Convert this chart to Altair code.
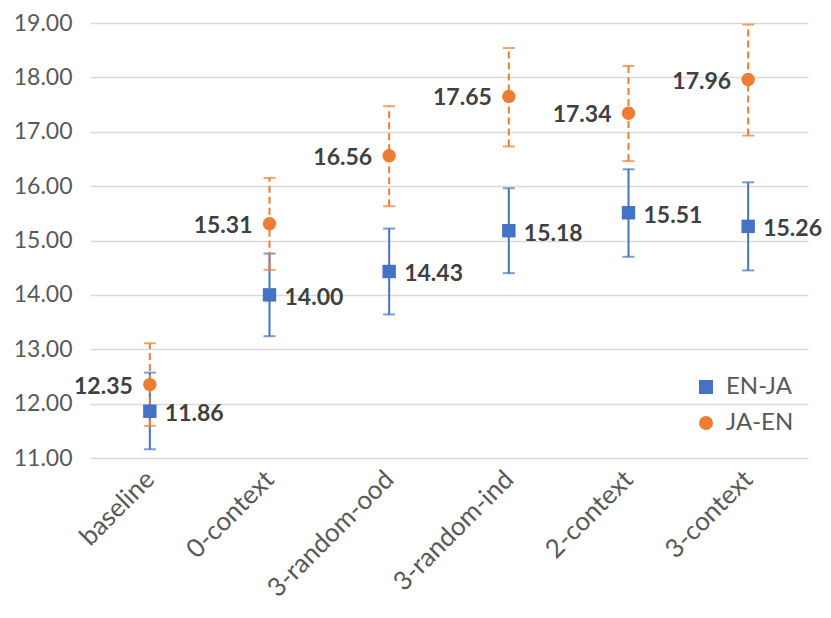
import altair as alt
import pandas as pd

categories = ["baseline", "0-context", "3-random-ood", "3-random-ind", "2-context", "3-context"]
series_names = ["EN-JA", "JA-EN"]

en_ja = [11.86, 14.00, 14.43, 15.18, 15.51, 15.26]
en_ja_lo = [11.16, 13.24, 13.64, 14.40, 14.70, 14.45]
en_ja_hi = [12.57, 14.76, 15.22, 15.96, 16.31, 16.07]

ja_en = [12.35, 15.31, 16.56, 17.65, 17.34, 17.96]
ja_en_lo = [11.59, 14.46, 15.63, 16.73, 16.46, 16.93]
ja_en_hi = [13.11, 16.15, 17.47, 18.54, 18.21, 18.97]

y_ticks = [11, 12, 13, 14, 15, 16, 17, 18, 19]

rows = []
for i, c in enumerate(categories):
    rows.append(dict(cat=c, series="EN-JA", v=en_ja[i], lo=en_ja_lo[i], hi=en_ja_hi[i]))
    rows.append(dict(cat=c, series="JA-EN", v=ja_en[i], lo=ja_en_lo[i], hi=ja_en_hi[i]))
df = pd.DataFrame(rows)

BLUE = "#4472C4"
ORANGE = "#ED7D31"
FONT = "Lato"

x_enc = alt.X(
    "cat:N",
    sort=categories,
    scale=alt.Scale(type="point", padding=0.5),
    axis=alt.Axis(
        title=None, labelAngle=-45, labelAlign="right", labelBaseline="middle",
        labelFont=FONT, labelFontSize=26, labelColor="#595959", labelPadding=17,
        domain=False, ticks=False, grid=False, labelOverlap=False,
    ),
)
y_scale = alt.Scale(domain=[11, 19], nice=False, zero=False)
y_enc = alt.Y(
    "v:Q",
    scale=y_scale,
    axis=alt.Axis(
        title=None, values=y_ticks, format=".2f", labelFont=FONT, labelFontSize=23,
        labelColor="#595959", labelPadding=18, domain=False, ticks=False,
        grid=True, gridColor="#d9d9d9", gridWidth=1.5,
    ),
)

base = alt.Chart(df)

legend = alt.Legend(
    title=None, orient="none", legendX=604, legendY=352, symbolSize=196,
    labelFont=FONT, labelFontSize=24, labelColor="#595959", rowPadding=12,
    symbolOpacity=1, padding=0, labelOffset=8,
)
color_enc = alt.Color("series:N", scale=alt.Scale(domain=series_names, range=[BLUE, ORANGE]), legend=legend)
shape_enc = alt.Shape("series:N", scale=alt.Scale(domain=series_names, range=["square", "circle"]), legend=legend)

def err_layers(name, col, dash):
    b = base.transform_filter(alt.datum.series == name)
    rule = b.mark_rule(color=col, strokeWidth=2, strokeDash=dash).encode(
        x=x_enc, y=alt.Y("lo:Q", scale=y_scale), y2="hi:Q"
    )
    cap_lo = b.mark_tick(color=col, orient="horizontal", size=12, thickness=2).encode(
        x=x_enc, y=alt.Y("lo:Q", scale=y_scale)
    )
    cap_hi = b.mark_tick(color=col, orient="horizontal", size=12, thickness=2).encode(
        x=x_enc, y=alt.Y("hi:Q", scale=y_scale)
    )
    return [rule, cap_lo, cap_hi]

layers = []
layers += err_layers("EN-JA", BLUE, [1, 0])
layers += err_layers("JA-EN", ORANGE, [7, 4])

points = base.mark_point(filled=True, size=180, opacity=1).encode(
    x=x_enc, y=y_enc, color=color_enc, shape=shape_enc
)
layers.append(points)

lab_en = base.transform_filter(alt.datum.series == "EN-JA").mark_text(
    align="left", baseline="middle", dx=15, dy=3, font=FONT, fontSize=23,
    fontWeight="bold", color="#404040"
).encode(x=x_enc, y=y_enc, text=alt.Text("v:Q", format=".2f"))
lab_ja = base.transform_filter(alt.datum.series == "JA-EN").mark_text(
    align="right", baseline="middle", dx=-17, dy=2, font=FONT, fontSize=23,
    fontWeight="bold", color="#404040"
).encode(x=x_enc, y=y_enc, text=alt.Text("v:Q", format=".2f"))
layers += [lab_en, lab_ja]

chart = alt.layer(*layers).properties(
    width=718,
    height=435,
    autosize=alt.AutoSizeParams(type="none"),
    padding={"left": 82, "top": 15, "right": 15, "bottom": 146},
).configure_view(stroke=None)

chart.save("out.html", embed_options={"renderer": "svg", "actions": False})
